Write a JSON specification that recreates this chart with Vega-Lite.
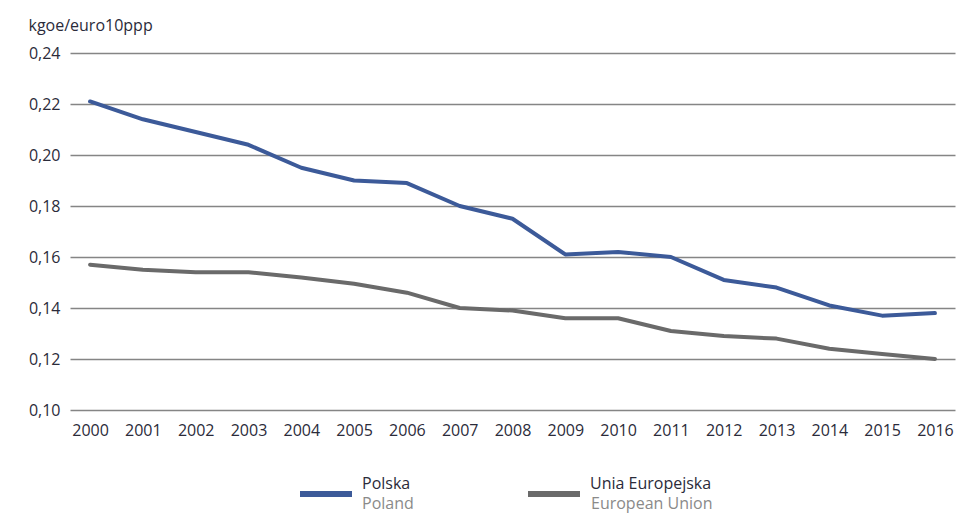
{
  "$schema": "https://vega.github.io/schema/vega-lite/v6.json",
  "width": 885,
  "height": 357,
  "autosize": {"type": "none"},
  "padding": {"left": 70, "top": 53, "right": 21, "bottom": 104},
  "background": "white",
  "config": {
    "view": {"stroke": null},
    "font": "Open Sans",
    "axis": {"labelFont": "Open Sans", "titleFont": "Open Sans", "labelColor": "#2b2b3a", "titleColor": "#2b2b3a"},
    "legend": {"labelFont": "Open Sans"}
  },
  "data": {
    "values": [
      {"year": "2000", "series": "Polska", "en": "Poland", "value": 0.221},
      {"year": "2001", "series": "Polska", "en": "Poland", "value": 0.214},
      {"year": "2002", "series": "Polska", "en": "Poland", "value": 0.209},
      {"year": "2003", "series": "Polska", "en": "Poland", "value": 0.204},
      {"year": "2004", "series": "Polska", "en": "Poland", "value": 0.195},
      {"year": "2005", "series": "Polska", "en": "Poland", "value": 0.190},
      {"year": "2006", "series": "Polska", "en": "Poland", "value": 0.189},
      {"year": "2007", "series": "Polska", "en": "Poland", "value": 0.180},
      {"year": "2008", "series": "Polska", "en": "Poland", "value": 0.175},
      {"year": "2009", "series": "Polska", "en": "Poland", "value": 0.161},
      {"year": "2010", "series": "Polska", "en": "Poland", "value": 0.162},
      {"year": "2011", "series": "Polska", "en": "Poland", "value": 0.160},
      {"year": "2012", "series": "Polska", "en": "Poland", "value": 0.151},
      {"year": "2013", "series": "Polska", "en": "Poland", "value": 0.148},
      {"year": "2014", "series": "Polska", "en": "Poland", "value": 0.141},
      {"year": "2015", "series": "Polska", "en": "Poland", "value": 0.137},
      {"year": "2016", "series": "Polska", "en": "Poland", "value": 0.138},
      {"year": "2000", "series": "Unia Europejska", "en": "European Union", "value": 0.157},
      {"year": "2001", "series": "Unia Europejska", "en": "European Union", "value": 0.155},
      {"year": "2002", "series": "Unia Europejska", "en": "European Union", "value": 0.154},
      {"year": "2003", "series": "Unia Europejska", "en": "European Union", "value": 0.154},
      {"year": "2004", "series": "Unia Europejska", "en": "European Union", "value": 0.152},
      {"year": "2005", "series": "Unia Europejska", "en": "European Union", "value": 0.1495},
      {"year": "2006", "series": "Unia Europejska", "en": "European Union", "value": 0.146},
      {"year": "2007", "series": "Unia Europejska", "en": "European Union", "value": 0.140},
      {"year": "2008", "series": "Unia Europejska", "en": "European Union", "value": 0.139},
      {"year": "2009", "series": "Unia Europejska", "en": "European Union", "value": 0.136},
      {"year": "2010", "series": "Unia Europejska", "en": "European Union", "value": 0.136},
      {"year": "2011", "series": "Unia Europejska", "en": "European Union", "value": 0.131},
      {"year": "2012", "series": "Unia Europejska", "en": "European Union", "value": 0.129},
      {"year": "2013", "series": "Unia Europejska", "en": "European Union", "value": 0.128},
      {"year": "2014", "series": "Unia Europejska", "en": "European Union", "value": 0.124},
      {"year": "2015", "series": "Unia Europejska", "en": "European Union", "value": 0.122},
      {"year": "2016", "series": "Unia Europejska", "en": "European Union", "value": 0.120}
    ]
  },
  "encoding": {
    "x": {
      "field": "year",
      "type": "ordinal",
      "scale": {"type": "point", "padding": 0.38},
      "axis": {
        "title": null,
        "labelAngle": 0,
        "domain": false,
        "ticks": false,
        "labelFontSize": 16,
        "labelPadding": 12,
        "grid": false
      }
    },
    "y": {
      "field": "value",
      "type": "quantitative",
      "scale": {"domain": [0.10, 0.24], "nice": false, "zero": false},
      "axis": {
        "values": [0.10, 0.12, 0.14, 0.16, 0.18, 0.20, 0.22, 0.24],
        "labelExpr": "replace(format(datum.value, '.2f'), '.', ',')",
        "domain": false,
        "ticks": false,
        "grid": true,
        "gridColor": "#858585",
        "gridWidth": 1.5,
        "gridOpacity": 1,
        "labelFontSize": 16,
        "labelPadding": 10,
        "title": "kgoe/euro10ppp",
        "titleAngle": 0,
        "titleAlign": "left",
        "titleBaseline": "middle",
        "titleX": -42,
        "titleY": -28,
        "titleFontSize": 16,
        "titleFontWeight": "normal"
      }
    }
  },
  "layer": [
    {
      "mark": {"type": "line", "strokeWidth": 4, "strokeCap": "round", "strokeJoin": "round"},
      "encoding": {
        "color": {
          "field": "series",
          "type": "nominal",
          "scale": {"domain": ["Polska", "Unia Europejska"], "range": ["#3c5a99", "#6a6a6a"]},
          "legend": {
            "title": null,
            "orient": "none",
            "legendX": 227,
            "legendY": 412,
            "direction": "horizontal",
            "symbolType": "stroke",
            "symbolSize": 2704,
            "symbolStrokeWidth": 6,
            "labelFontSize": 16,
            "labelColor": "#2b2b3a",
            "labelOffset": 7,
            "columnPadding": 105,
            "encode": {"labels": {"update": {"dy": {"value": -10}}}}
          }
        }
      }
    },
    {
      "mark": {"type": "line", "opacity": 0, "strokeWidth": 1},
      "encoding": {
        "detail": {"field": "series"},
        "strokeDash": {
          "field": "en",
          "type": "nominal",
          "scale": {"domain": ["Poland", "European Union"], "range": [[1, 0], [1, 0]]},
          "legend": {
            "title": null,
            "orient": "none",
            "legendX": 227,
            "legendY": 412,
            "direction": "horizontal",
            "symbolType": "stroke",
            "symbolSize": 2704,
            "symbolStrokeWidth": 6,
            "symbolOpacity": 0,
            "symbolStrokeColor": "white",
            "labelFontSize": 16,
            "labelColor": "#8a8a8a",
            "labelOffset": 7,
            "columnPadding": 112,
            "encode": {"labels": {"update": {"dy": {"value": 10}}}}
          }
        }
      }
    }
  ]
}
